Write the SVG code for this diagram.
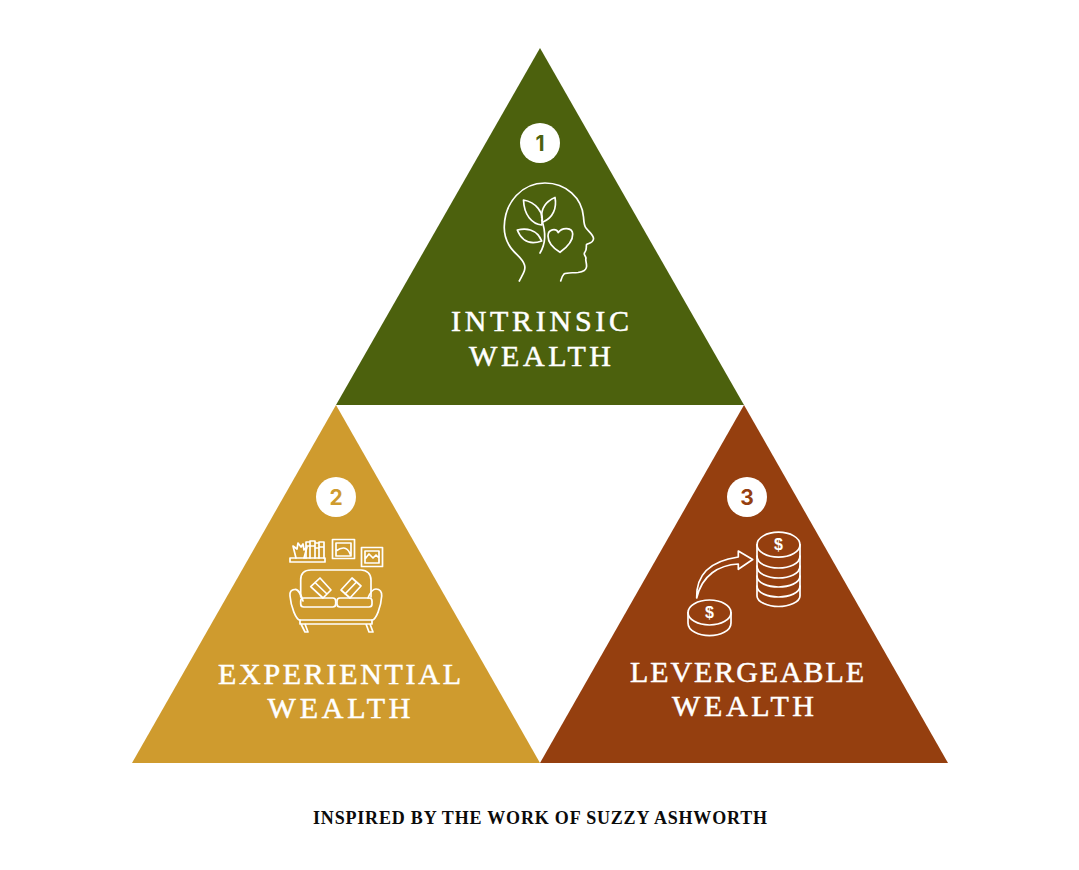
<svg xmlns="http://www.w3.org/2000/svg" width="1079" height="870" viewBox="0 0 1079 870">
<style>
.t{font-family:"Liberation Serif","Times New Roman",serif;font-size:30px;fill:#fff;stroke:#fff;stroke-width:.5px;text-anchor:middle}
.n{font-family:Inter,"Liberation Sans",sans-serif;font-size:21px;font-weight:700;text-anchor:middle}
.i{fill:none;stroke:#fff;stroke-width:1.7;stroke-linecap:round;stroke-linejoin:round}
.c{font-family:"Liberation Sans",sans-serif;font-size:16px;font-weight:700;fill:#fff;text-anchor:middle}
</style>
<rect width="1079" height="870" fill="#fff"/>
<g id="node-intrinsic">
<polygon points="540,48 744,405 336,405" fill="#4c610d"/>
<circle cx="540" cy="143" r="20" fill="#fff"/>
<text class="n" x="540" y="151" fill="#4c610d">1</text>
<path class="i" d="M519.300 281C523 274 526 270 524.500 265C522 257 514 254 509 245C505 238 504 232 504.300 226C505 202 522 183 545 183C566 183 582 198 583.500 217C584 223 584 226 586 228C589 232 594 235 593.500 239C593 243 589 243 586.500 244.500C586 248 587 249 585 252C583 254 585 255 586 258C585 260 587 263 586.500 267C586 271 582 272 578 272.500C572 273 566 272.500 564 274C562 276 561.500 278 560.700 281"/>
<path class="i" d="M540 253C546 243 546 232 541.700 220"/>
<path class="i" d="M541.700 225C532 224 524 215 523.500 200C535 202 545 212 541.700 225Z"/>
<path class="i" d="M541.700 218C541 208 547 201 555 197.500C557 208 553 218 543 222"/>
<path class="i" d="M541.700 241C530 245 522 242 517.300 230C526 228 537 229 541.700 241Z"/>
<path class="i" d="M560 252.300C553 248 548 242 548 236C548 229 556 228 558.300 232.500C562 227 572.500 227 572.700 234C573 242 566 248 560 252.300Z"/>
<text class="t" x="540" y="331" textLength="178" lengthAdjust="spacing">INTRINSIC</text>
<text class="t" x="540" y="366" textLength="142" lengthAdjust="spacing">WEALTH</text>
</g>
<g id="node-experiential">
<polygon points="336,405 540,763 132,763" fill="#cf9b2e"/>
<circle cx="336" cy="497" r="20" fill="#fff"/>
<text class="n" x="336" y="505" fill="#cf9b2e">2</text>
<g class="i">
<rect x="290" y="558" width="35" height="4"/>
<path d="M296 558L293 546L297 549L298 543L301 547L303 544L304 550L307 547L304 558"/>
<path d="M306 558V542H310V558M310 558V541H315V558M315 558V543H319V558M319 558V542H324V558M306 546H310M310 546H315M315 548H319M319 547H324"/>
<rect x="332.500" y="539.500" width="22" height="19"/>
<path d="M336 543H351V556H336ZM336 551C343 546 348 547 351 556"/>
<rect x="361.500" y="547.500" width="21" height="19"/>
<path d="M365 551H379V563H365ZM365 559L369 554L373 558L376 555L379 558"/>
<path d="M300.700 597V580C300.700 573 305 570 311 570H361C367 570 371 574 371 580V597"/>
<path d="M303 601C301 595 299 589 295 589.300C291 589.500 289.500 592 290 596C291 607 296 620 300 620H372C376 620 381 607 381.700 596C382 592 380 589 376 589C372 589 370 593 368 598"/>
<path d="M300 620V624H372V620M301 624L305 632H308L305 624M370 624L366 624L369 632H373L370 624"/>
<rect x="300.700" y="598" width="35" height="9" rx="3"/>
<rect x="337" y="598" width="35" height="9" rx="3"/>
<path d="M320 578L331 590L323 598L310.700 586.700ZM315 582.500L327 594"/>
<path d="M352 578L341 590L350 598L361 586ZM356 582.500L345 594"/>
</g>
<text class="t" x="339.500" y="684" textLength="243" lengthAdjust="spacing">EXPERIENTIAL</text>
<text class="t" x="339" y="718" textLength="143" lengthAdjust="spacing">WEALTH</text>
</g>
<g id="node-levergeable">
<polygon points="744,405 948,763 540,763" fill="#953f0f"/>
<circle cx="747" cy="497" r="20" fill="#fff"/>
<text class="n" x="747" y="505" fill="#953f0f">3</text>
<g class="i">
<ellipse cx="778.500" cy="544.700" rx="21.500" ry="12.500"/>
<path d="M757 544.700V596C757 602 768 606.500 778.500 606.500C789 606.500 800 602 800 596V544.700"/>
<path d="M757 556C757 564 768 568 778.500 568C789 568 800 564 800 556M757 566C757 574 768 578 778.500 578C789 578 800 574 800 566M757 576C757 583 768 587 778.500 587C789 587 800 583 800 576M757 586C757 593 768 597 778.500 597C789 597 800 593 800 586"/>
<ellipse cx="709.500" cy="612.500" rx="21.500" ry="12.500"/>
<path d="M688 612.500V623C688 631 699 635.700 709.500 635.700C720 635.700 731 631 731 623V612.500"/>
<path d="M696.700 598C696 575 710 561 738.300 557V551L752.700 559.500L738.300 569.300V564C719 565 702 575 696.700 598Z"/>
</g>
<text class="c" x="778.500" y="550">$</text>
<text class="c" x="709.500" y="618">$</text>
<text class="t" x="747" y="682" textLength="234" lengthAdjust="spacing">LEVERGEABLE</text>
<text class="t" x="743" y="716" textLength="142" lengthAdjust="spacing">WEALTH</text>
</g>
<text x="540" y="824" font-family="'Liberation Serif','Times New Roman',serif" font-size="18" font-weight="700" fill="#0b0b0b" text-anchor="middle" textLength="454" lengthAdjust="spacing">INSPIRED BY THE WORK OF SUZZY ASHWORTH</text>
</svg>
